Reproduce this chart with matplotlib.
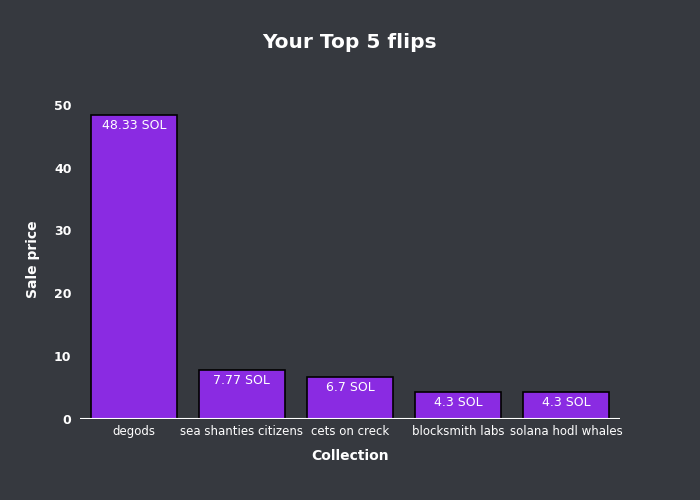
import matplotlib
matplotlib.use("Agg")
import matplotlib.pyplot as plt

collections = ["degods", "sea shanties citizens", "cets on creck", "blocksmith labs", "solana hodl whales"]
prices = [48.33, 7.77, 6.7, 4.3, 4.3]
labels = ["48.33 SOL", "7.77 SOL", "6.7 SOL", "4.3 SOL", "4.3 SOL"]

BG = "#36393f"
BAR = "#8a2be2"
plt.rcParams["font.family"] = "DejaVu Sans"

fig = plt.figure(figsize=(7, 5), dpi=100, facecolor=BG)
ax = fig.add_axes([0.114, 0.162, 0.772, 0.638], facecolor=BG)
x = range(len(collections))
bars = ax.bar(x, prices, width=0.8, color=BAR, edgecolor="black", linewidth=1.2, zorder=2)
for b, lab in zip(bars, labels):
    ax.annotate(lab, (b.get_x() + b.get_width() / 2, b.get_height()), xytext=(0, -3),
                textcoords="offset points", ha="center", va="top", color="white", fontsize=9, zorder=3)
ax.set_xlim(-0.5, 4.5)
ax.set_ylim(0, 50.75)
ax.set_yticks([0, 10, 20, 30, 40, 50])
ax.set_xticks(list(x))
ax.set_xticklabels(collections, fontsize=8.5, color="white")
for t in ax.get_yticklabels():
    t.set_fontweight("bold"); t.set_fontsize(9); t.set_color("white")
ax.tick_params(axis="y", length=0, pad=6)
ax.tick_params(axis="x", length=0, pad=4)
for s in ax.spines.values():
    s.set_visible(False)
ax.axhline(0, color="white", linewidth=1.5, zorder=3)
ax.set_xlabel("Collection", color="white", fontsize=10, fontweight="bold", labelpad=8)
ax.set_ylabel("Sale price", color="white", fontsize=10, fontweight="bold", labelpad=10)
fig.suptitle("Your Top 5 flips", color="white", fontsize=14.5, fontweight="bold", y=0.935)
fig.savefig("out.png", facecolor=BG)
